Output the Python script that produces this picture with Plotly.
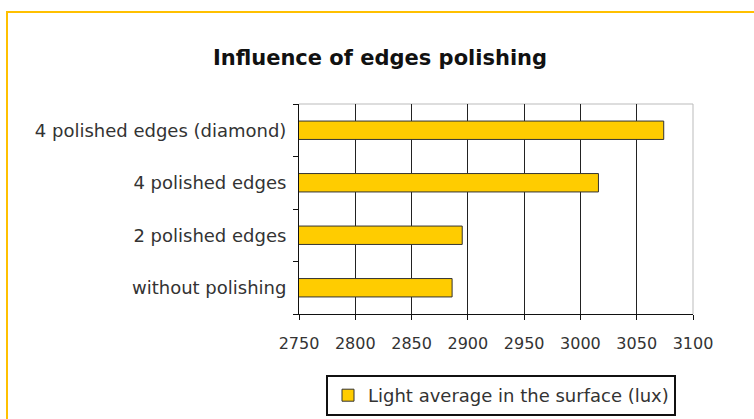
import plotly.graph_objects as go

categories = ["without polishing", "2 polished edges", "4 polished edges", "4 polished edges (diamond)"]
values = [2886, 2895, 3016, 3074]
series_name = "Light average in the surface (lux)"
x_ticks = [2750, 2800, 2850, 2900, 2950, 3000, 3050, 3100]

W, H = 754, 419
ml, mr, mt, mb = 299, 61, 104, 105
pw, ph = W - ml - mr, H - mt - mb

def px_x(px):
    return (px - ml) / pw

def px_y(py):
    return (H - mb - py) / ph

fig = go.Figure()
fig.add_trace(go.Bar(
    x=values, y=categories, orientation="h", name=series_name,
    marker=dict(color="#FFCC00", line=dict(color="#333333", width=1)),
    showlegend=True,
))

font_fam = "'DejaVu Sans', sans-serif"
fig.update_layout(
    width=W, height=H,
    margin=dict(l=ml, r=mr, t=mt, b=mb, autoexpand=False),
    paper_bgcolor="white", plot_bgcolor="white",
    bargap=0.65,
    title=dict(text="<b>Influence of edges polishing</b>", x=380 / W, xanchor="center",
               y=1 - 58 / H, yanchor="middle",
               font=dict(family=font_fam, size=21, color="#111111")),
    font=dict(family=font_fam, size=16, color="#333333"),
    showlegend=True,
    legend=dict(orientation="h", x=px_x(501), xanchor="center", y=px_y(375), yanchor="top",
                bordercolor="#111111", borderwidth=2, bgcolor="white",
                font=dict(size=18, color="#333333")),
    xaxis=dict(range=[2750, 3100], tickvals=x_ticks, showgrid=True, gridcolor="#222222", gridwidth=1,
               showline=True, linecolor="#111111", linewidth=1, ticks="outside", ticklen=5,
               tickcolor="#111111", zeroline=False, fixedrange=True, automargin=False,
               tickfont=dict(size=16), ticklabelstandoff=10),
    yaxis=dict(categoryorder="array", categoryarray=categories, showline=True, linecolor="#111111",
               linewidth=1, ticks="outside", ticklen=5, tickcolor="#111111", tickson="boundaries",
               showgrid=False, tickfont=dict(size=18), ticklabelstandoff=8, automargin=False),
    shapes=[
        dict(type="line", xref="paper", yref="paper", x0=0, x1=1, y0=1, y1=1,
             line=dict(color="#BBBBBB", width=1), layer="below"),
        dict(type="line", xref="paper", yref="paper", x0=1, x1=1, y0=0, y1=1,
             line=dict(color="#BBBBBB", width=1), layer="below"),
        dict(type="line", xref="paper", yref="paper", x0=px_x(6), x1=px_x(760), y0=px_y(12), y1=px_y(12),
             line=dict(color="#FFC000", width=2)),
        dict(type="line", xref="paper", yref="paper", x0=px_x(7), x1=px_x(7), y0=px_y(12), y1=px_y(425),
             line=dict(color="#FFC000", width=2)),
    ],
)

fig.write_html("out.html")
